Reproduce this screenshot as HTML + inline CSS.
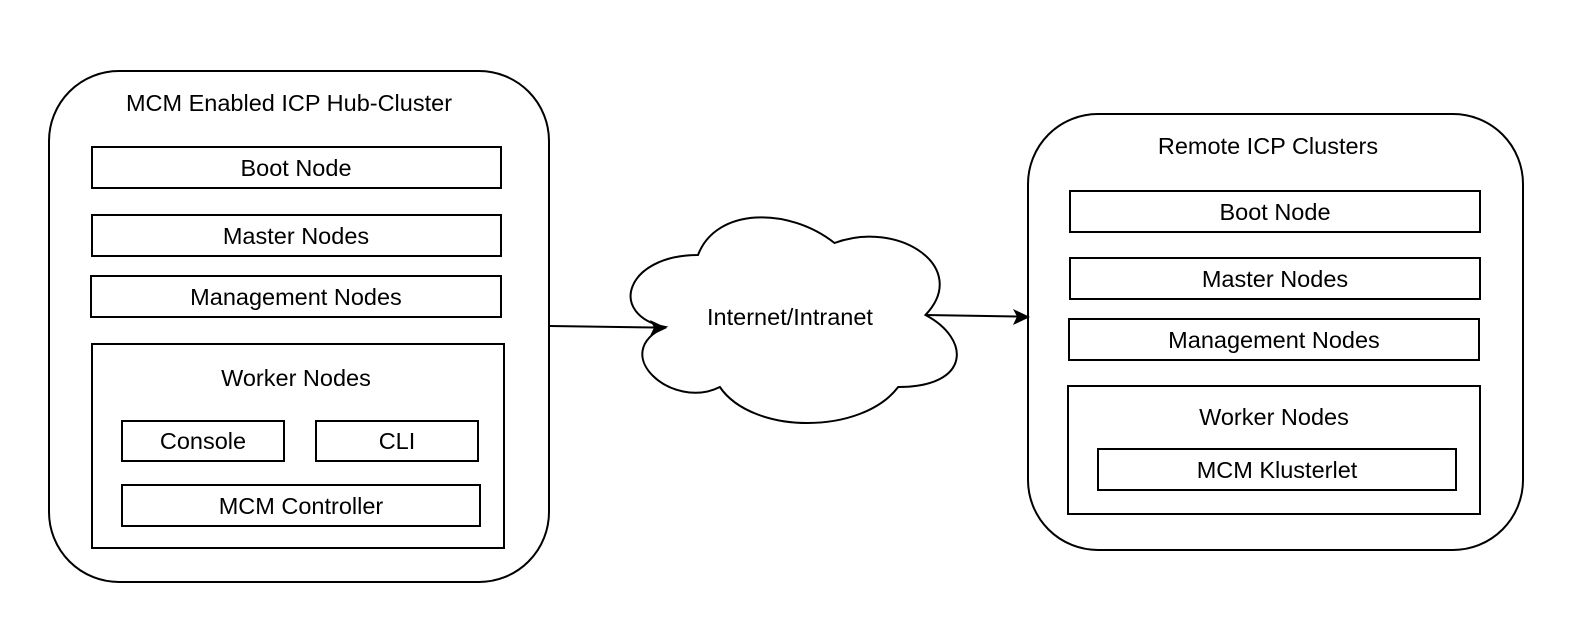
<!DOCTYPE html>
<html><head><style>body{margin:0;background:#fff}svg{display:block}text{font-family:"Liberation Sans",Arial,sans-serif;font-size:23.5px;fill:#000}</style></head>
<body>
<svg width="1584" height="638" viewBox="0 0 1584 638" xmlns="http://www.w3.org/2000/svg">
<g fill="#fff" stroke="#000" stroke-width="2">
<rect x="49" y="71" width="500" height="511" rx="70"/>
<rect x="92" y="147" width="409" height="41"/>
<rect x="92" y="215" width="409" height="41"/>
<rect x="91" y="276" width="410" height="41"/>
<rect x="92" y="344" width="412" height="204"/>
<rect x="122" y="421" width="162" height="40"/>
<rect x="316" y="421" width="162" height="40"/>
<rect x="122" y="485" width="358" height="41"/>
<rect x="1028" y="114" width="495" height="436" rx="70"/>
<rect x="1070" y="191" width="410" height="41"/>
<rect x="1070" y="258" width="410" height="41"/>
<rect x="1069" y="319" width="410" height="41"/>
<rect x="1068" y="386" width="412" height="128"/>
<rect x="1098" y="449" width="358" height="41"/>
<path transform="translate(607,195) scale(3.64,2.4)" vector-effect="non-scaling-stroke" d="M25 25 C5 25 0 50 16 55 C0 66 18 90 31 80 C40 100 70 100 80 80 C100 80 100 60 87.5 50 C100 30 80 10 62.5 20 C50 5 30 5 25 25 Z"/>
</g>
<g stroke="#000" stroke-width="2" fill="none">
<line x1="550" y1="326" x2="655" y2="327.5"/>
<line x1="925" y1="315" x2="1018" y2="316.5"/>
</g>
<g fill="#000">
<path d="M667 328 L650 320 L654 327.5 L650 336 Z"/>
<path d="M1030 317 L1013 309 L1017 316.5 L1013 325 Z"/>
</g>
<g text-anchor="middle">
<text x="289" y="111">MCM Enabled ICP Hub-Cluster</text>
<text x="296" y="176">Boot Node</text>
<text x="296" y="244">Master Nodes</text>
<text x="296" y="305">Management Nodes</text>
<text x="296" y="386">Worker Nodes</text>
<text x="203" y="449">Console</text>
<text x="397" y="449">CLI</text>
<text x="301" y="514">MCM Controller</text>
<text x="790" y="325">Internet/Intranet</text>
<text x="1268" y="154">Remote ICP Clusters</text>
<text x="1275" y="220">Boot Node</text>
<text x="1275" y="287">Master Nodes</text>
<text x="1274" y="348">Management Nodes</text>
<text x="1274" y="425">Worker Nodes</text>
<text x="1277" y="478">MCM Klusterlet</text>
</g>
</svg>
</body></html>
